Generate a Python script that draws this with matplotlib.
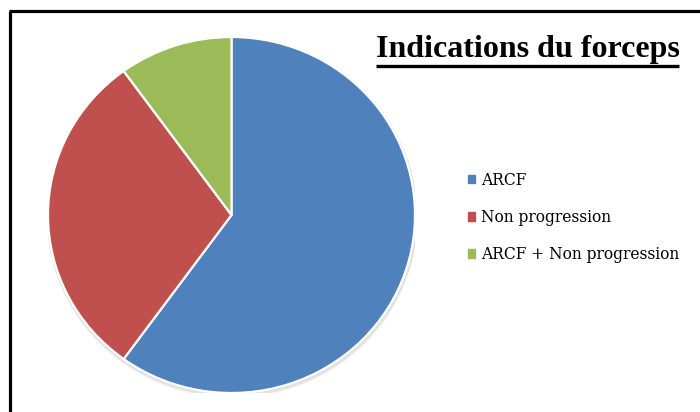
import matplotlib
matplotlib.use('Agg')
import matplotlib.pyplot as plt
from matplotlib.lines import Line2D
from matplotlib.patches import Ellipse

# data
labels = ["ARCF", "Non progression", "ARCF + Non progression"]
values = [60, 30, 10]
colors = ["#4F81BD", "#C0504D", "#9BBB59"]
title = "Indications du forceps"

W, H = 700, 412
fig = plt.figure(figsize=(W / 100, H / 100), dpi=100)

# pie axes placed in pixels (slightly wider than tall, like the original)
left, right, top, bottom = 48, 415, 37, 393
ax = fig.add_axes([left / W, 1 - bottom / H, (right - left) / W, (bottom - top) / H])

# soft shadow under the pie
for off, a in [(0.018, 0.10), (0.010, 0.15)]:
    ax.add_patch(Ellipse((0.004, -off), 2.02, 2.02, color="#808080", alpha=a, lw=0, zorder=0))

wedges, _ = ax.pie(values, colors=colors, startangle=90, counterclock=False,
                   wedgeprops=dict(edgecolor="white", linewidth=1.6))
for w in wedges:
    w.set_zorder(2)
ax.set_aspect('auto')
ax.set_xlim(-1, 1)
ax.set_ylim(-1, 1)
ax.axis('off')

# title, bold serif, underlined
t = fig.text(527.5 / W, 1 - 57 / H, title, ha='center', va='baseline',
             fontfamily='Liberation Serif', fontweight='bold', fontsize=23)
fig.canvas.draw()
bb = t.get_window_extent()
uy = 1 - 66 / H
fig.add_artist(Line2D([bb.x0 / W, bb.x1 / W], [uy, uy], color='black', lw=2.4,
                      solid_capstyle='butt'))

# legend
handles = [plt.Rectangle((0, 0), 1, 1, color=c) for c in colors]
fig.legend(handles, labels, loc='center left', bbox_to_anchor=(468 / W, 1 - 217.5 / H),
           frameon=False, prop=dict(family='DejaVu Serif', size=11.2),
           handlelength=0.45, handleheight=0.45, handletextpad=0.4,
           labelspacing=1.3, borderpad=0, borderaxespad=0)

# outer frame (left and top edges only are visible)
fig.add_artist(Line2D([10 / W, 10 / W], [0, 1 - 11 / H], color='black', lw=2.3,
                      solid_capstyle='butt'))
fig.add_artist(Line2D([9 / W, 1], [1 - 11 / H, 1 - 11 / H], color='black', lw=2.3,
                      solid_capstyle='butt'))

fig.savefig("out.png", dpi=100)
